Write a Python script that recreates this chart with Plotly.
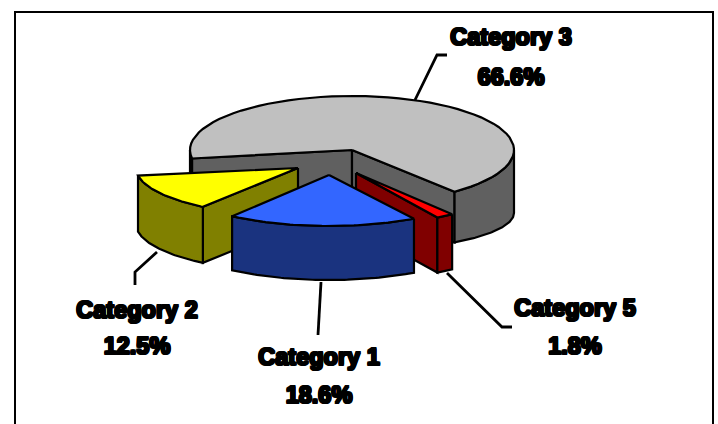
import math
import plotly.graph_objects as go

# ---- data ----
categories = ["Category 1", "Category 2", "Category 3", "Category 5"]
percent = [18.6, 12.5, 66.6, 1.8]
percent_labels = ["18.6%", "12.5%", "66.6%", "1.8%"]
unlabelled_percent = 100 - sum(percent)  # thin share with no label, sits before the last slice

# ---- styles / layout ----
START = 149.0
centers = [(329, 175), (298, 168), (352, 150), (356, 173)]
radii_x = [165, 162, 162, 158]
radii_y = [51, 48, 54, 52]
depths = [54, 56, 57, 55]          # wall height at the wedge point
rim_depths = [54, 56, 63, 55]      # wall height at the ellipse middle
rim_radii_y = [51, 48, 38, 52]     # vertical radius of the lower rim
top_colors = ["#3366FF", "#FFFF00", "#C0C0C0", "#FF0000"]
side_colors = ["#1A337F", "#808000", "#606060", "#800000"]
draw_order = [2, 3, 1, 0]
label_xy = [((319, 359), (319, 397)), ((137, 312), (137, 348)),
            ((511, 39), (511, 79)), ((575, 310), (575, 348))]
leaders = [[(321, 282), (318, 335)],
           [(157, 252), (135, 272), (135, 285)],
           [(415, 100), (437, 55), (447, 55)],
           [(447, 273), (502, 327), (512, 327)]]

# slice angles, clockwise from 12 o'clock
spans = []
a = START
for i, p in enumerate(percent):
    if i == len(percent) - 1:
        a += unlabelled_percent * 3.6
    spans.append((a, a + p * 3.6))
    a += p * 3.6


def top_pt(i, th):
    r = math.radians(th)
    c = centers[i]
    return c[0] + radii_x[i] * math.sin(r), c[1] - radii_y[i] * math.cos(r)


def low_pt(i, th):
    r = math.radians(th)
    c = centers[i]
    return c[0] + radii_x[i] * math.sin(r), c[1] + rim_depths[i] - rim_radii_y[i] * math.cos(r)


def sweep(fn, i, a0, a1, n=60):
    return [fn(i, a0 + (a1 - a0) * k / n) for k in range(n + 1)]


fig = go.Figure()


def poly(points, color):
    xs = [p[0] for p in points] + [points[0][0]]
    ys = [p[1] for p in points] + [points[0][1]]
    fig.add_trace(go.Scatter(x=xs, y=ys, mode="lines", fill="toself", fillcolor=color,
                             line=dict(color="black", width=2.2), hoverinfo="skip", showlegend=False))


def face(i, th):
    c = centers[i]
    poly([c, top_pt(i, th), low_pt(i, th), (c[0], c[1] + depths[i])], side_colors[i])


def outer(i, a0, a1):
    # visible outer wall: front half of the rim only (90..270 clockwise from top)
    for k in (-360, 0, 360):
        lo, hi = max(a0, 90 + k), min(a1, 270 + k)
        if lo < hi:
            poly(sweep(top_pt, i, lo, hi) + sweep(low_pt, i, hi, lo), side_colors[i])


# leader lines
for seg in leaders:
    fig.add_trace(go.Scatter(x=[p[0] for p in seg], y=[p[1] for p in seg], mode="lines",
                             line=dict(color="black", width=2.8), hoverinfo="skip", showlegend=False))

for i in draw_order:
    a0, a1 = spans[i]
    if categories[i] == "Category 3":
        face(i, a0)
        face(i, a1)
    elif categories[i] == "Category 2":
        face(i, a0)
    elif categories[i] == "Category 5":
        face(i, a1)
    outer(i, a0, a1)
    poly([centers[i]] + sweep(top_pt, i, a0, a1), top_colors[i])

heavy = ("1px 0 0 #000, -1px 0 0 #000, 0 1px 0 #000, 0 -1px 0 #000, "
         "1px 1px 0 #000, -1px -1px 0 #000, 1px -1px 0 #000, -1px 1px 0 #000")
xs, ys, txt = [], [], []
for i in range(len(categories)):
    (p, q) = label_xy[i]
    xs += [p[0], q[0]]
    ys += [p[1], q[1]]
    txt += [categories[i], percent_labels[i]]
fig.add_trace(go.Scatter(x=xs, y=ys, text=txt, mode="text", textposition="middle center",
                         textfont=dict(family="Liberation Sans", size=23.5, color="black",
                                       weight="bold", shadow=heavy),
                         hoverinfo="skip", showlegend=False))

fig.update_layout(
    width=718, height=424, margin=dict(l=0, r=0, t=0, b=0), autosize=False,
    paper_bgcolor="white", plot_bgcolor="white", showlegend=False,
    xaxis=dict(range=[0, 718], visible=False, fixedrange=True),
    yaxis=dict(range=[424, 0], visible=False, fixedrange=True),
    shapes=[dict(type="rect", xref="x", yref="y", x0=15, y0=12, x1=713, y1=440,
                 line=dict(color="black", width=2), fillcolor="rgba(0,0,0,0)", layer="below")],
)
fig.write_html("out.html", config={"displayModeBar": False},
               post_script="document.body.style.margin='0';document.body.style.overflow='hidden';")
